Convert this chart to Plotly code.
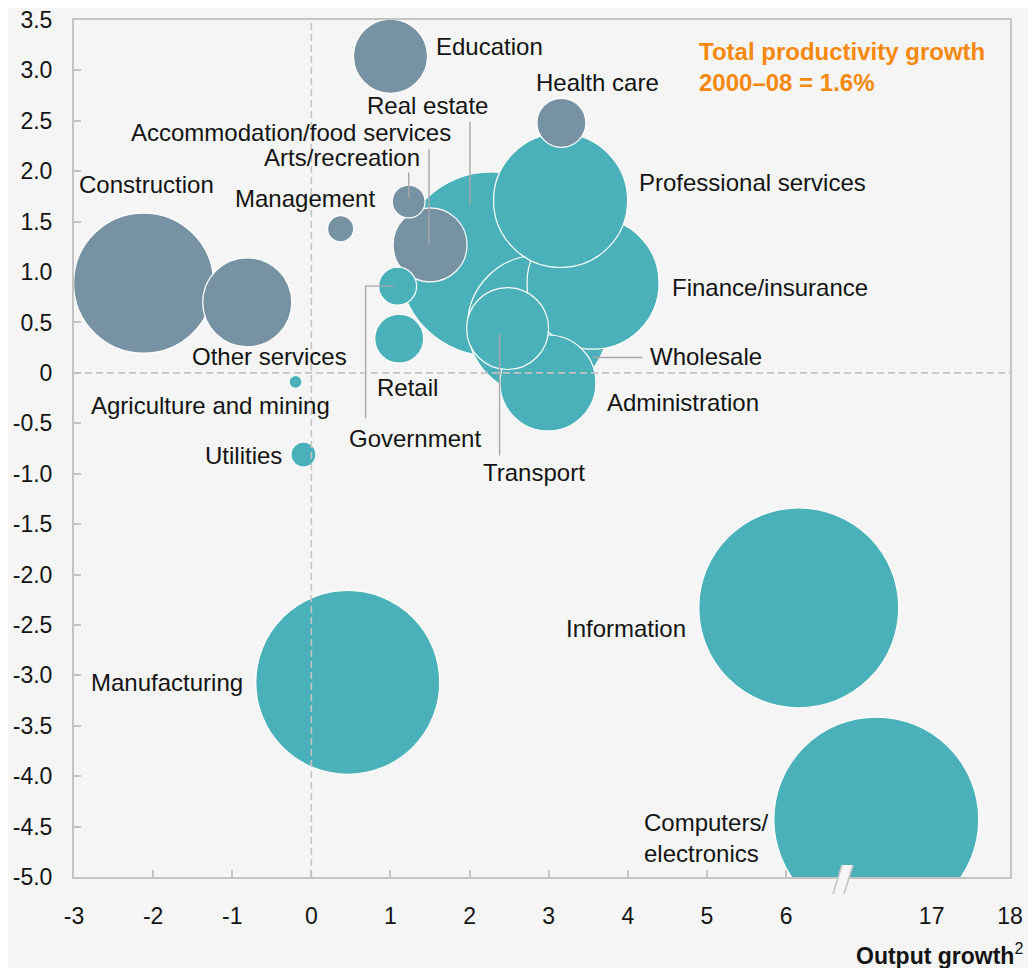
import plotly.graph_objects as go

# sectors in drawing order (back to front)
sectors = ["Real estate", "Construction", "Other services", "Wholesale", "Finance/insurance",
           "Professional services", "Health care", "Education", "Administration", "Transport",
           "Accommodation/food services", "Arts/recreation", "Management", "Government", "Retail",
           "Agriculture and mining", "Utilities", "Manufacturing", "Information",
           "Computers/<br>electronics"]
# output growth (position on the broken axis), productivity growth, bubble weight
output_growth = [2.27, -2.12, -0.81, 2.86, 3.56, 3.15, 3.16, 1.00, 2.99, 2.48,
                 1.50, 1.23, 0.37, 1.09, 1.11, -0.20, -0.10, 0.46, 6.16, 7.14]
productivity_growth = [1.08, 0.89, 0.70, 0.47, 0.89, 1.71, 2.48, 3.14, -0.10, 0.44,
                       1.27, 1.70, 1.43, 0.86, 0.34, -0.09, -0.81, -3.07, -2.33, -4.43]
weight = [84.6, 49.0, 19.8, 49.0, 43.6, 44.9, 6.0, 13.7, 23.0, 16.8,
          13.7, 2.7, 1.7, 3.6, 6.0, 0.42, 1.56, 84.6, 100, 105]
group = ["teal", "grey", "grey", "teal", "teal", "teal", "grey", "grey", "teal", "teal",
         "grey", "grey", "grey", "teal", "teal", "teal", "teal", "teal", "teal", "teal"]

x_tickvals = [-3, -2, -1, 0, 1, 2, 3, 4, 5, 6, 7.84, 8.83]
x_ticktext = ["-3", "-2", "-1", "0", "1", "2", "3", "4", "5", "6", "17", "18"]
y_tickvals = [3.5, 3.0, 2.5, 2.0, 1.5, 1.0, 0.5, 0, -0.5, -1.0, -1.5, -2.0, -2.5, -3.0, -3.5, -4.0, -4.5, -5.0]
y_ticktext = ["3.5", "3.0", "2.5", "2.0", "1.5", "1.0", "0.5", "0", "-0.5", "-1.0", "-1.5", "-2.0",
              "-2.5", "-3.0", "-3.5", "-4.0", "-4.5", "-5.0"]

colors = {"teal": "#4ab1ba", "grey": "#7792a3"}
BG = "#f5f5f5"
TXT = "#141414"
LEAD = "#a8a8a8"
AXC = "#c4c4c4"
FONT = "Liberation Sans, Arial, sans-serif"
FS = 24

# the page body has an 8px margin, so the figure is drawn 8px in from the corner;
# the figure is made big enough to run past the window's right and bottom edges
OFF = 8
W, H = 1036, 968
X_RANGE = [-3, 8.83]
Y_RANGE = [-5.0, 3.5]
L, T = 74 - OFF, 20 - OFF
R, B = W - (1010 - OFF), H - (877 - OFF)
PW, PH = W - L - R, H - T - B
PX_X = PW / (X_RANGE[1] - X_RANGE[0])
PX_Y = PH / (Y_RANGE[1] - Y_RANGE[0])

fig = go.Figure(go.Scatter(
    x=output_growth, y=productivity_growth, mode="markers",
    marker=dict(size=weight, sizemode="area", sizeref=0.005,
                color=[colors[g] for g in group], opacity=1,
                line=dict(color="white", width=1.2)),
    cliponaxis=True, hoverinfo="text", text=sectors,
))

# label placement: (xshift px, yshift px, xanchor)
label_pos = {
    "Real estate": (-63, 158, "center"),
    "Construction": (3, 99, "center"),
    "Other services": (22, -54, "center"),
    "Wholesale": (110, -31, "left"),
    "Finance/insurance": (77, -4, "left"),
    "Professional services": (76, 18, "left"),
    "Health care": (36, 40, "center"),
    "Education": (44, 10, "left"),
    "Administration": (57, -20, "left"),
    "Transport": (26, -144, "center"),
    "Accommodation/food services": (-139, 112, "center"),
    "Arts/recreation": (-67, 44, "center"),
    "Management": (-36, 30, "center"),
    "Government": (17, -152, "center"),
    "Retail": (8, -49, "center"),
    "Agriculture and mining": (-85, -24, "center"),
    "Utilities": (-19, -1, "right"),
    "Manufacturing": (-103, 0, "right"),
    "Information": (-111, -21, "right"),
    "Computers/<br>electronics": (-234, -18, "left"),
}
for s, xv, yv in zip(sectors, output_growth, productivity_growth):
    dx, dy, anc = label_pos[s]
    fig.add_annotation(x=xv, y=yv, xref="x", yref="y", text=s, showarrow=False,
                       xshift=dx, yshift=dy, xanchor=anc, yanchor="middle", align="left",
                       font=dict(family=FONT, size=FS, color=TXT))

# leader lines: pixel offsets from bubble centre
leaders = {
    "Arts/recreation": [(0, -29), (0, -4)],
    "Accommodation/food services": [(-1, -96), (-1, 0)],
    "Real estate": [(-21, -142), (-21, -59)],
    "Government": [(-32, 132), (-32, 0), (-4, 0)],
    "Transport": [(-8, 5), (-8, 127)],
    "Wholesale": [(55, 32), (105, 32)],
}
for s, pts in leaders.items():
    i = sectors.index(s)
    path = ""
    for k, (dx, dy) in enumerate(pts):
        xd = output_growth[i] + dx / PX_X
        yd = productivity_growth[i] - dy / PX_Y
        path += ("M" if k == 0 else "L") + f"{xd},{yd} "
    fig.add_shape(type="path", path=path, xref="x", yref="y", layer="above",
                  line=dict(color=LEAD, width=1.4))

# zero lines
fig.add_shape(type="line", x0=0, x1=0, y0=Y_RANGE[0], y1=Y_RANGE[1], xref="x", yref="y",
              layer="above", line=dict(color=AXC, width=1.6, dash="7px,4px"))
fig.add_shape(type="line", x0=X_RANGE[0], x1=X_RANGE[1], y0=0, y1=0, xref="x", yref="y",
              layer="above", line=dict(color=AXC, width=1.6, dash="7px,4px"))


def paper(px, py):
    # px, py measured on the 1036x968 page
    return (px - OFF - L) / PW, (H - B - (py - OFF)) / PH


# axis break marker
p = [paper(833, 894), paper(842, 865), paper(853, 865), paper(844, 894)]
fig.add_shape(type="path", xref="paper", yref="paper", layer="above",
              path=f"M{p[0][0]},{p[0][1]} L{p[1][0]},{p[1][1]} L{p[2][0]},{p[2][1]} L{p[3][0]},{p[3][1]} Z",
              fillcolor=BG, line=dict(width=0))
for a, b in [(p[0], p[1]), (p[3], p[2])]:
    fig.add_shape(type="line", xref="paper", yref="paper", layer="above",
                  x0=a[0], y0=a[1], x1=b[0], y1=b[1], line=dict(color=AXC, width=1.6))

# headline
hx, hy = paper(697, 67)
fig.add_annotation(x=hx, y=hy, xref="paper", yref="paper", showarrow=False,
                   xanchor="left", yanchor="middle", align="left",
                   text="<b>Total productivity growth<br>2000–08 = 1.6%</b>",
                   font=dict(family=FONT, size=FS, color="#f5890f"))

# x axis title
tx, ty = paper(1025, 954)
fig.add_annotation(x=tx, y=ty, xref="paper", yref="paper", showarrow=False,
                   xanchor="right", yanchor="middle",
                   text="<b>Output growth</b><sup>2</sup>",
                   font=dict(family=FONT, size=FS - 1, color=TXT))

axis_common = dict(showgrid=False, zeroline=False, showline=True, linecolor=AXC,
                   linewidth=2, mirror=True, ticks="inside", ticklen=7, tickwidth=1.5,
                   tickcolor=AXC, tickfont=dict(family=FONT, size=FS - 1, color=TXT),
                   layer="below traces", automargin=False, ticklabeloverflow="allow")
fig.update_xaxes(range=X_RANGE, tickmode="array", tickvals=x_tickvals, ticktext=x_ticktext,
                 ticklabelstandoff=17, **axis_common)
fig.update_yaxes(range=Y_RANGE, tickmode="array", tickvals=y_tickvals, ticktext=y_ticktext,
                 ticklabelstandoff=15, **axis_common)

fig.update_layout(width=W, height=H, margin=dict(l=L, r=R, t=T, b=B),
                  paper_bgcolor=BG, plot_bgcolor=BG, showlegend=False,
                  font=dict(family=FONT, color=TXT))

fig.write_html("out.html")
